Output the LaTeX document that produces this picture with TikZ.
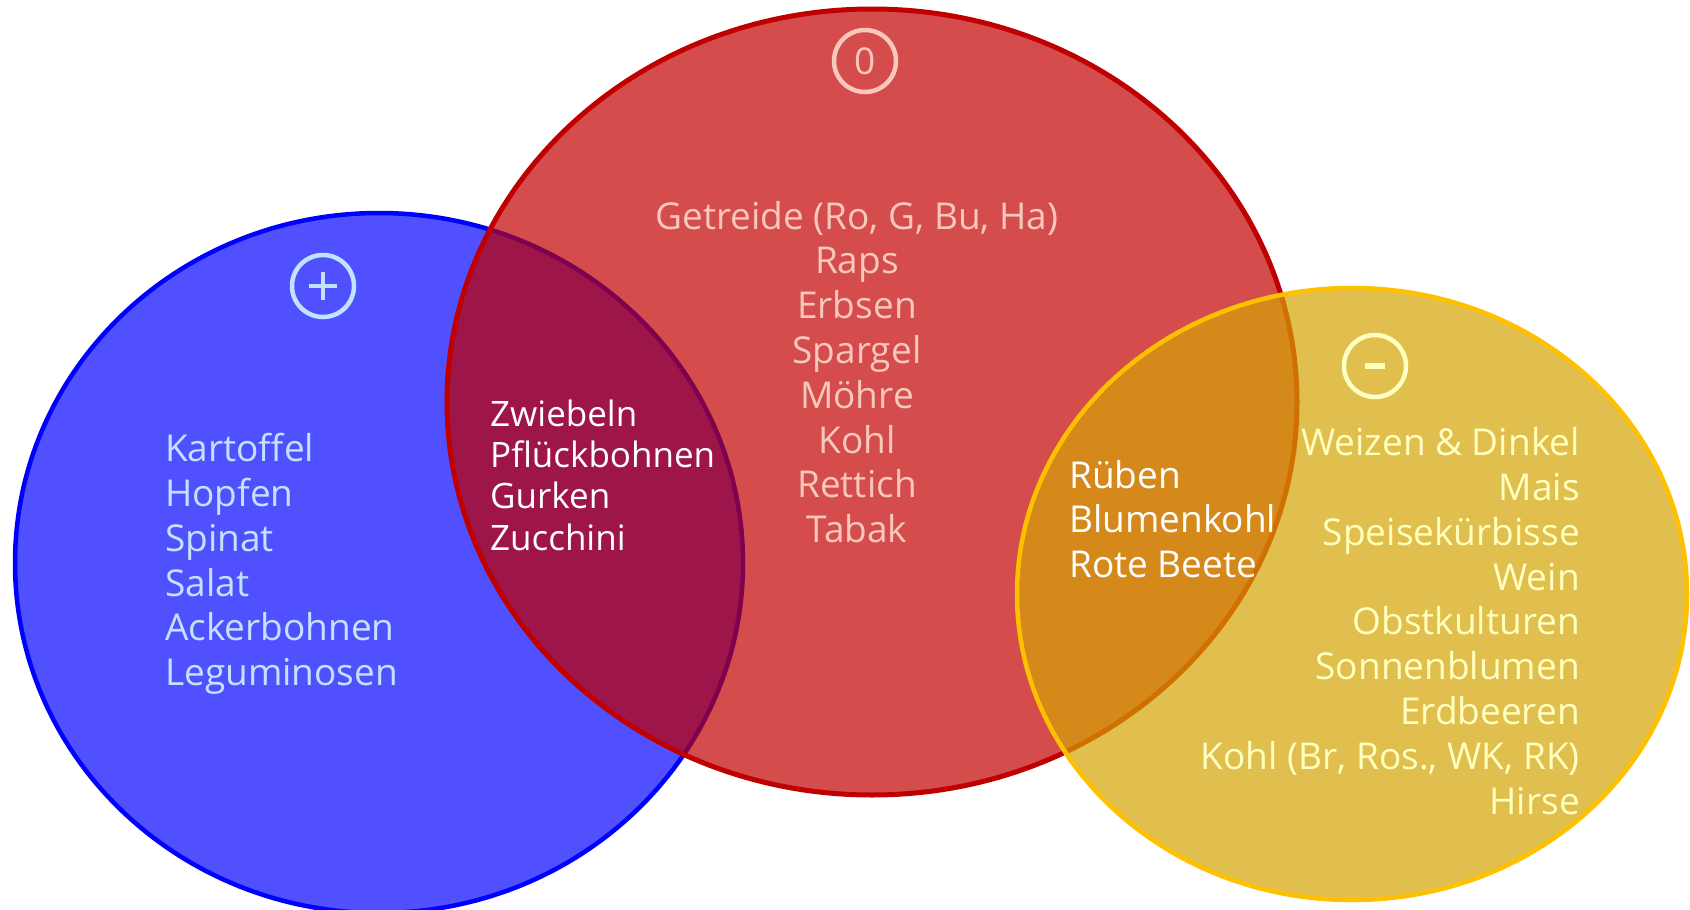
\documentclass[tikz,border=0pt]{standalone}
\usepackage{fontspec}
\setmainfont{Open Sans}
\usetikzlibrary{positioning}

\definecolor{plusfill}{RGB}{80, 80, 255}
\definecolor{plusline}{RGB}{0, 0, 255}
\definecolor{plustext}{RGB}{192, 228, 255}
\definecolor{zerofill}{RGB}{212, 76, 76}
\definecolor{zeroline}{RGB}{192, 0, 0}
\definecolor{zerotext}{RGB}{248, 200, 188}
\definecolor{minusfill}{RGB}{225, 191, 78}
\definecolor{minusline}{RGB}{255, 192, 0}
\definecolor{minustext}{RGB}{255, 255, 192}
\definecolor{mixpz}{RGB}{158, 21, 73}
\definecolor{mixpzline}{RGB}{128, 0, 80}
\definecolor{mixzm}{RGB}{212, 137, 26}
\definecolor{mixzmline}{RGB}{208, 112, 0}

\tikzset{
  plusset/.style={insert path={(379,563) ellipse [x radius=364, y radius=350]}},
  zeroset/.style={insert path={(872,402) ellipse [x radius=425, y radius=393]}},
  minusset/.style={insert path={(1352,594) ellipse [x radius=335, y radius=306]}},
  croplist/.style={font=\fontsize{37}{44.8}\selectfont, inner sep=0pt},
  marker/.style={circle, draw=#1, line width=4.5pt, minimum size=62pt, inner sep=0pt, text=#1}
}

\begin{document}
\begin{tikzpicture}[x=1pt, y=-1pt]
  \useasboundingbox (0,0) rectangle (1690,910);
  \clip (0,0) rectangle (1690,910);

  % plus set
  \fill[plusfill, plusset];
  \draw[plusline, line width=4.5pt, plusset];

  % zero set, with its overlap on the plus set
  \fill[zerofill, zeroset];
  \begin{scope}
    \clip[zeroset];
    \fill[mixpz, plusset];
    \draw[mixpzline, line width=4.5pt, plusset];
  \end{scope}
  \draw[zeroline, line width=5pt, zeroset];

  % minus set, with its overlap on the zero set
  \fill[minusfill, minusset];
  \begin{scope}
    \clip[minusset];
    \fill[mixzm, zeroset];
    \draw[mixzmline, line width=5pt, zeroset];
  \end{scope}
  \draw[minusline, line width=4.5pt, minusset];

  % markers
  \node[marker=plustext] (plus) at (323,286) {};
  \draw[plustext, line width=4.5pt] ([xshift=-14pt]plus.center) -- ([xshift=14pt]plus.center);
  \draw[plustext, line width=4.5pt] ([yshift=-14pt]plus.center) -- ([yshift=14pt]plus.center);
  \node[marker=zerotext, croplist] (zero) at (865,61) {0};
  \node[marker=minustext] (minus) at (1375,366) {};
  \draw[minustext, line width=6pt] ([xshift=-10pt]minus.center) -- ([xshift=10pt]minus.center);

  % crop lists
  \node[croplist, text=plustext, align=left, anchor=west] (pluslist) at (165,564)
    {Kartoffel\\Hopfen\\Spinat\\Salat\\Ackerbohnen\\Leguminosen};
  \node[croplist, text=white, align=left, anchor=west, font=\fontsize{35}{41.3}\selectfont] (pzlist) at (490,475)
    {Zwiebeln\\Pflückbohnen\\Gurken\\Zucchini};
  \node[croplist, text=zerotext, align=center] (zerolist) at (857,372)
    {Getreide (Ro, G, Bu, Ha)\\Raps\\Erbsen\\Spargel\\Möhre\\Kohl\\Rettich\\Tabak};
  \node[croplist, text=white, align=left, anchor=west] (zmlist) at (1069,519)
    {Rüben\\Blumenkohl\\Rote Beete};
  \node[croplist, text=minustext, align=right, anchor=east] (minuslist) at (1580,621)
    {Weizen \& Dinkel\\Mais\\Speisekürbisse\\Wein\\Obstkulturen\\Sonnenblumen\\Erdbeeren\\Kohl (Br, Ros., WK, RK)\\Hirse};
\end{tikzpicture}
\end{document}
